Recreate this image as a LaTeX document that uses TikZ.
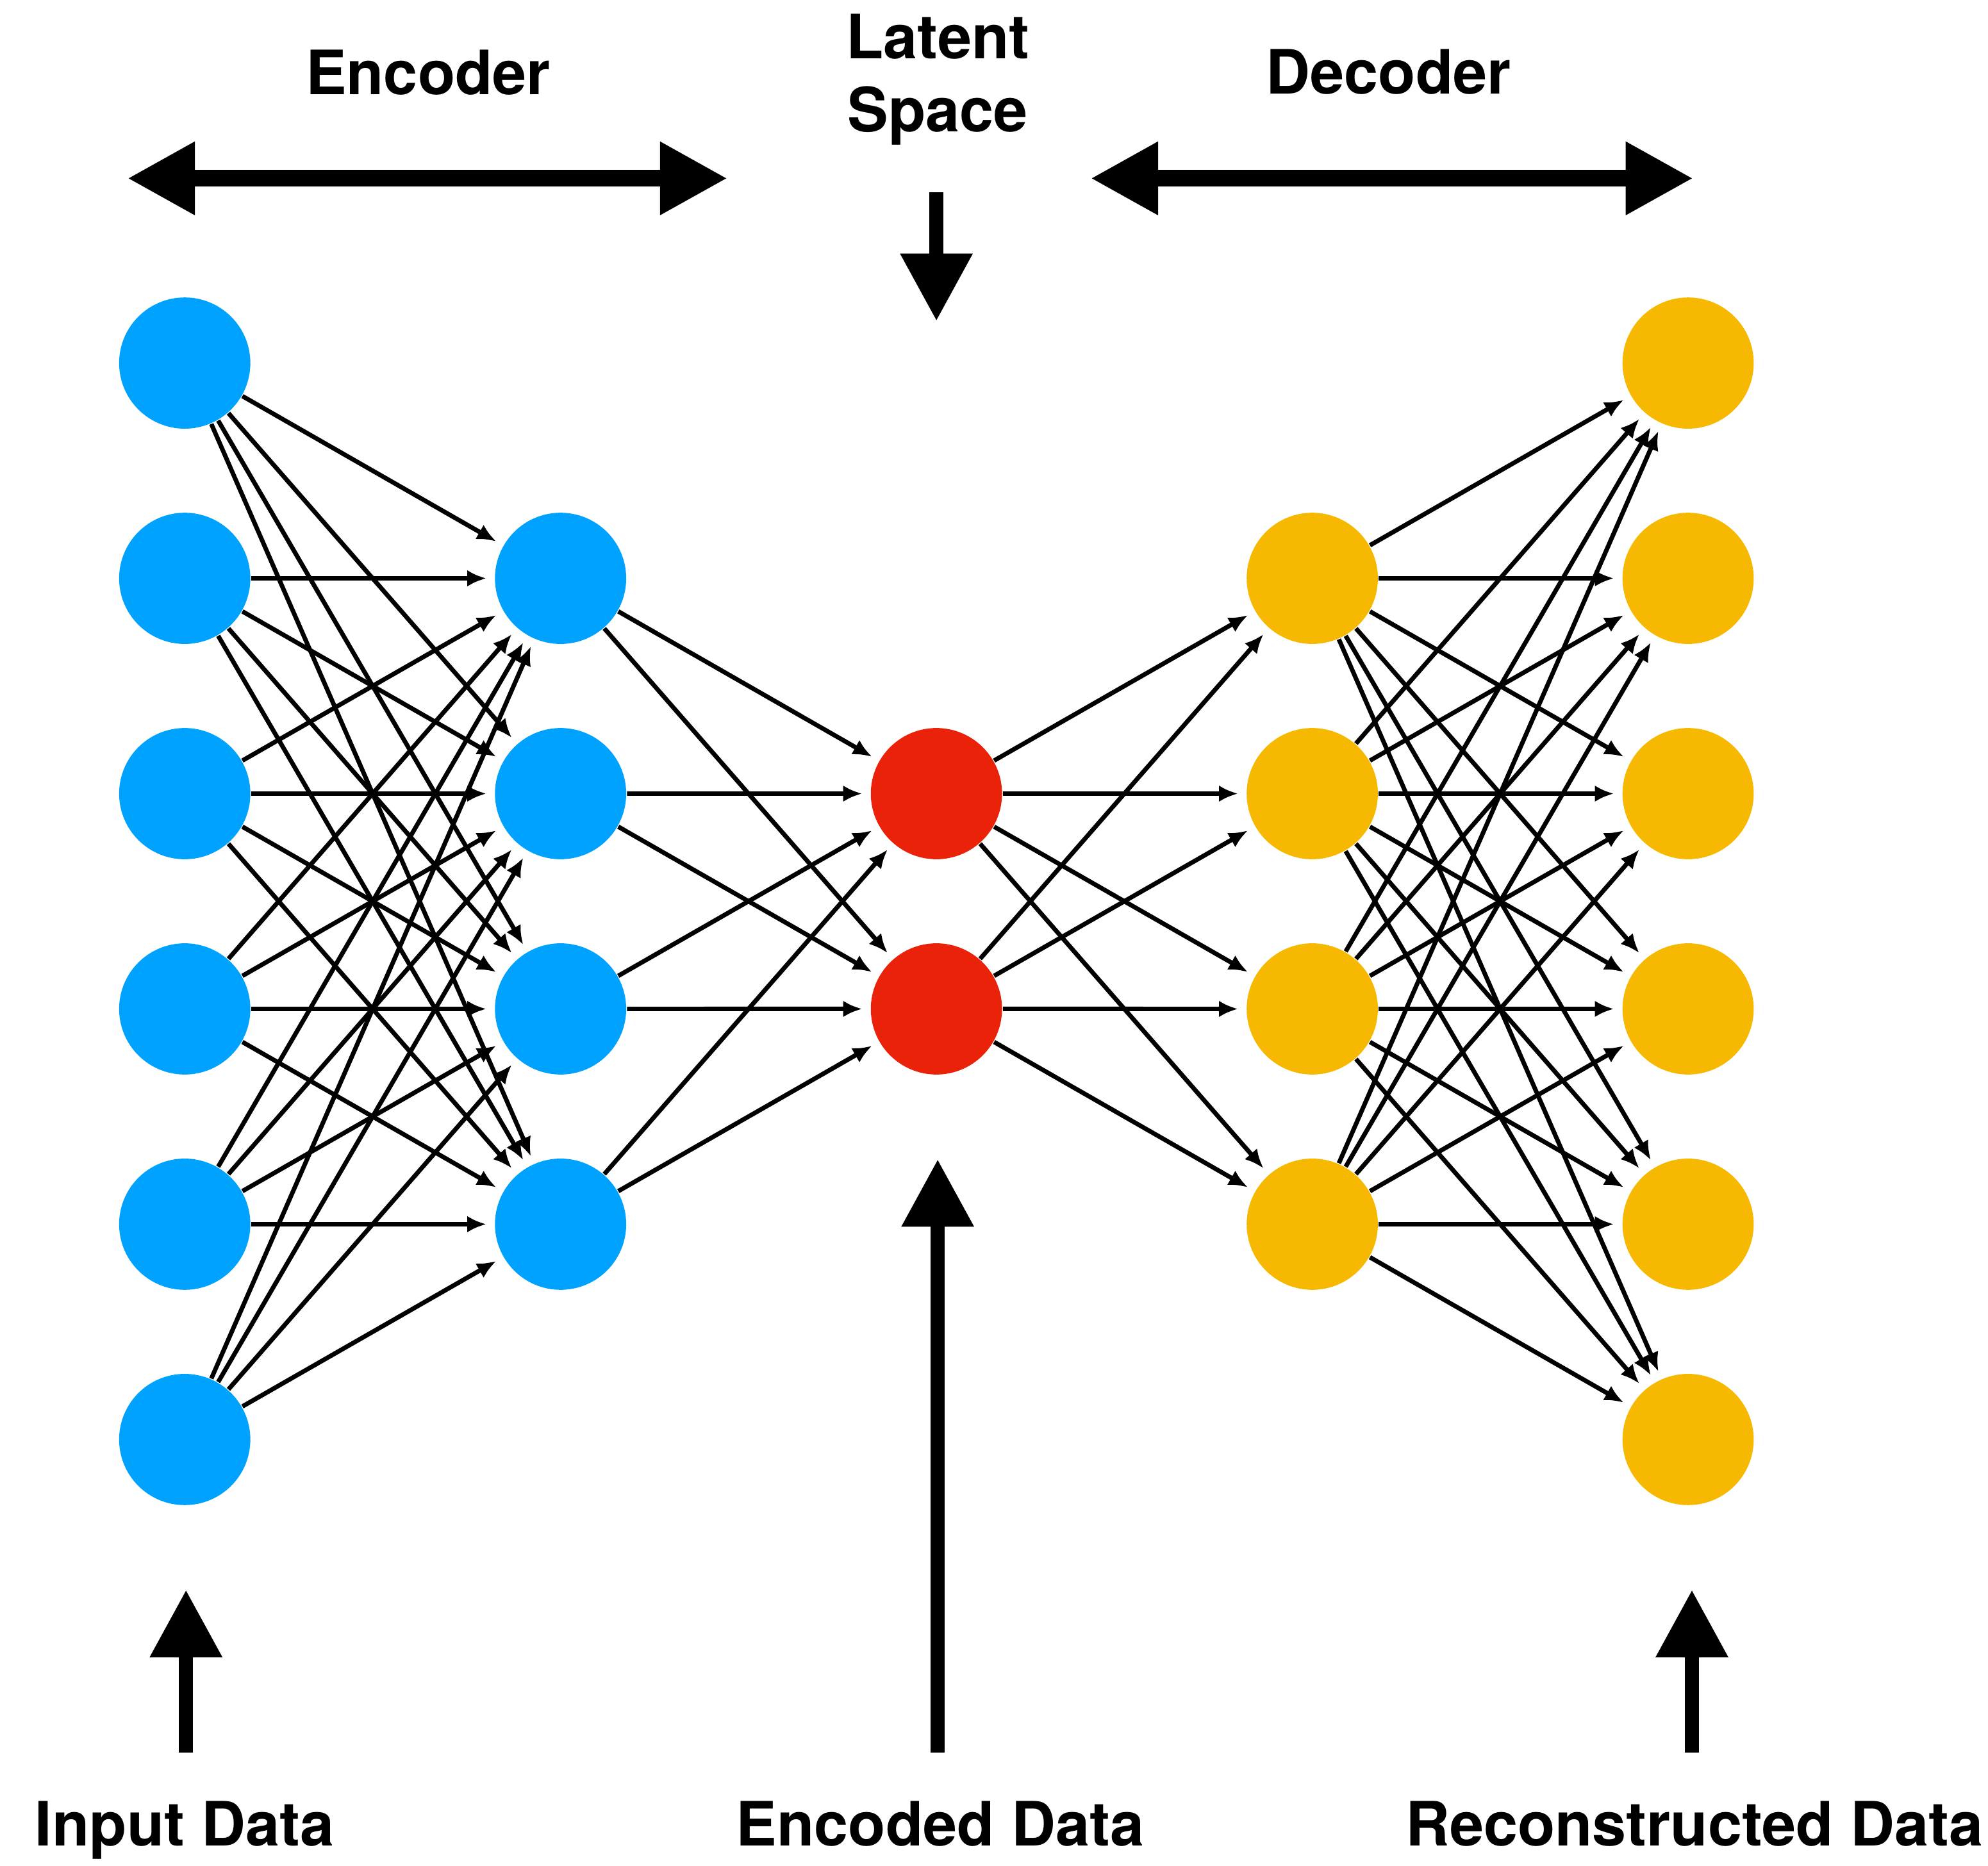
\documentclass[tikz,border=0pt]{standalone}
\usepackage{fontspec}
\setmainfont{TeX Gyre Heros}
\usetikzlibrary{arrows.meta}
\definecolor{encblue}{RGB}{0,162,255}
\definecolor{codered}{RGB}{234,34,10}
\definecolor{decgold}{RGB}{246,184,0}
\begin{document}
\begin{tikzpicture}[x=1cm, y=-1cm, font=\fontsize{13.66}{16.2}\selectfont\bfseries, line join=round,
    neuron/.style={circle, minimum size=1.03cm, inner sep=0pt},
    link/.style={-{Latex[length=0.15cm, width=0.13cm]}, line width=0.035cm, shorten >=0.06cm},
    bigarrow/.style={-{Triangle[length=0.53cm, width=0.54cm]}, line width=0.11cm},
    spanarrow/.style={{Triangle[length=0.53cm, width=0.54cm]}-{Triangle[length=0.53cm, width=0.54cm]}, line width=0.13cm},
    title/.style={inner sep=0pt, anchor=base}]
    \useasboundingbox (0,0) rectangle (15.604,14.648);
    % layers
    \foreach \j in {1,...,6} \node[neuron, fill=encblue] (i\j) at (1.45, 1.16+1.69*\j) {};
    \foreach \j in {1,...,4} \node[neuron, fill=encblue] (h\j) at (4.40, 2.85+1.69*\j) {};
    \foreach \j in {1,2} \node[neuron, fill=codered] (z\j) at (7.35, 4.54+1.69*\j) {};
    \foreach \j in {1,...,4} \node[neuron, fill=decgold] (d\j) at (10.30, 2.85+1.69*\j) {};
    \foreach \j in {1,...,6} \node[neuron, fill=decgold] (o\j) at (13.25, 1.16+1.69*\j) {};
    % weights
    \foreach \a in {1,...,6} \foreach \b in {1,...,4} \draw[link] (i\a) -- (h\b);
    \foreach \a in {1,...,4} \foreach \b in {1,2} \draw[link] (h\a) -- (z\b);
    \foreach \a in {1,2} \foreach \b in {1,...,4} \draw[link] (z\a) -- (d\b);
    \foreach \a in {1,...,4} \foreach \b in {1,...,6} \draw[link] (d\a) -- (o\b);
    % titles
    \node[title] (enclbl) at (3.36,0.74) {Encoder};
    \node[title] (declbl) at (10.90,0.735) {Decoder};
    \node[inner sep=0pt, anchor=north, align=center] (latlbl) at (7.36,0.105) {Latent\\Space};
    \node[title] (inlbl) at (1.45,14.49) {Input Data};
    \node[title] (codelbl) at (7.38,14.49) {Encoded Data};
    \node[title] (reclbl) at (13.30,14.49) {Reconstructed Data};
    % pointers
    \coordinate (encL) at (1.00,1.40); \coordinate (encR) at (5.71,1.40);
    \coordinate (decL) at (8.56,1.40); \coordinate (decR) at (13.29,1.40);
    \coordinate (latTop) at (7.35,1.51); \coordinate (latTip) at (7.35,2.52);
    \coordinate (inBot) at (1.46,13.76); \coordinate (inTip) at (1.46,12.48);
    \coordinate (codeBot) at (7.36,13.76); \coordinate (codeTip) at (7.36,9.10);
    \coordinate (recBot) at (13.28,13.76); \coordinate (recTip) at (13.28,12.48);
    \draw[spanarrow] (encL) -- (encR);
    \draw[spanarrow] (decL) -- (decR);
    \draw[bigarrow] (latTop) -- (latTip);
    \draw[bigarrow] (inBot) -- (inTip);
    \draw[bigarrow] (codeBot) -- (codeTip);
    \draw[bigarrow] (recBot) -- (recTip);
\end{tikzpicture}
\end{document}
